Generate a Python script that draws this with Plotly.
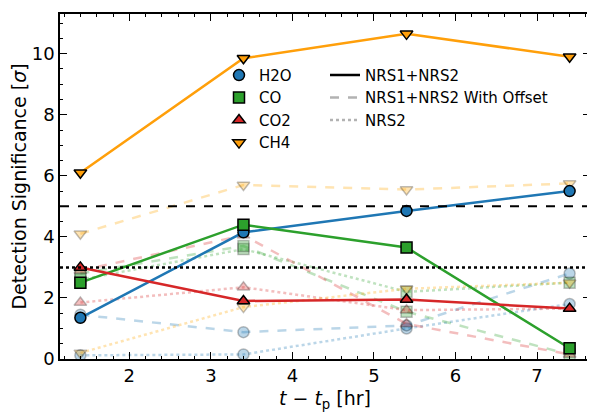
import plotly.graph_objects as go

t = [1.4, 3.4, 5.4, 7.4]
species = ["H2O", "CO", "CO2", "CH4"]
colors = ["#1f77b4", "#2ca02c", "#d62728", "#ff9f0a"]
faded = ["rgba(31,119,180,0.3)", "rgba(44,160,44,0.3)", "rgba(214,39,40,0.3)", "rgba(255,165,0,0.3)"]
symbols = ["circle", "square", "triangle-up", "triangle-down"]
solid = [[1.35, 4.15, 4.85, 5.5], [2.5, 4.4, 3.65, 0.35], [3.0, 1.9, 1.95, 1.65], [6.1, 9.85, 10.65, 9.9]]
offset = [[1.45, 0.88, 1.1, 2.8], [2.8, 3.7, 1.55, 0.15], [2.9, 4.05, 1.15, 0.15], [4.1, 5.7, 5.55, 5.75]]
nrs2 = [[0.12, 0.15, 1.0, 1.8], [2.6, 3.6, 2.2, 2.5], [1.85, 2.35, 1.6, 1.65], [0.2, 1.7, 2.3, 2.5]]

fig = go.Figure()
for i in range(4):
    for data, dash in [(nrs2[i], "dot"), (offset[i], "dash")]:
        fig.add_trace(go.Scatter(x=t, y=data, mode="lines+markers", showlegend=False,
            line=dict(color=faded[i], width=2.5, dash=dash),
            marker=dict(symbol=symbols[i], size=11, color=faded[i], line=dict(color="rgba(0,0,0,0.25)", width=1.5))))
for i in range(4):
    fig.add_trace(go.Scatter(x=t, y=solid[i], mode="lines+markers", showlegend=False,
        line=dict(color=colors[i], width=2.5),
        marker=dict(symbol=symbols[i], size=11, color=colors[i], line=dict(color="black", width=1.5))))
for i in range(4):
    fig.add_trace(go.Scatter(x=[None], y=[None], mode="markers", name=species[i], legend="legend",
        marker=dict(symbol=symbols[i], size=11, color=colors[i], line=dict(color="black", width=1.5))))
for name, dash, col in [("NRS1+NRS2", "solid", "black"), ("NRS1+NRS2 With Offset", "dash", "rgba(0,0,0,0.3)"), ("NRS2", "dot", "rgba(0,0,0,0.3)")]:
    fig.add_trace(go.Scatter(x=[None], y=[None], mode="lines", name=name, legend="legend2",
        line=dict(color=col, width=2.5, dash=dash)))

fig.add_hline(y=5, line=dict(color="black", width=2, dash="dash"))
fig.add_hline(y=3, line=dict(color="black", width=2.5, dash="dot"))

ax = dict(showline=True, linecolor="black", linewidth=1.5, mirror="ticks", ticks="inside",
          ticklen=7, tickcolor="black", showgrid=False, zeroline=False,
          tickfont=dict(size=18, color="black"))
fig.update_layout(
    width=595, height=413, plot_bgcolor="white", paper_bgcolor="white",
    margin=dict(l=52, r=13, t=4, b=62),
    font=dict(family="DejaVu Sans", color="black"),
    xaxis=dict(ax, range=[1.15, 7.65], dtick=1, minor=dict(ticks="inside", ticklen=3, dtick=0.2, tickcolor="black"),
               title=dict(text="<i>t</i> − <i>t</i><sub>p</sub> [hr]", font=dict(size=19), standoff=6)),
    yaxis=dict(ax, range=[0, 11.3], dtick=2, minor=dict(ticks="inside", ticklen=3, dtick=0.5, tickcolor="black"),
               title=dict(text="Detection Significance [<i>σ</i>]", font=dict(size=19), standoff=4)),
    legend=dict(x=0.3, y=0.87, xanchor="left", yanchor="top", bgcolor="rgba(0,0,0,0)", font=dict(size=15), tracegroupgap=0, itemwidth=30),
    legend2=dict(x=0.5, y=0.87, xanchor="left", yanchor="top", bgcolor="rgba(0,0,0,0)", font=dict(size=15)),
)
fig.write_html("out.html")
